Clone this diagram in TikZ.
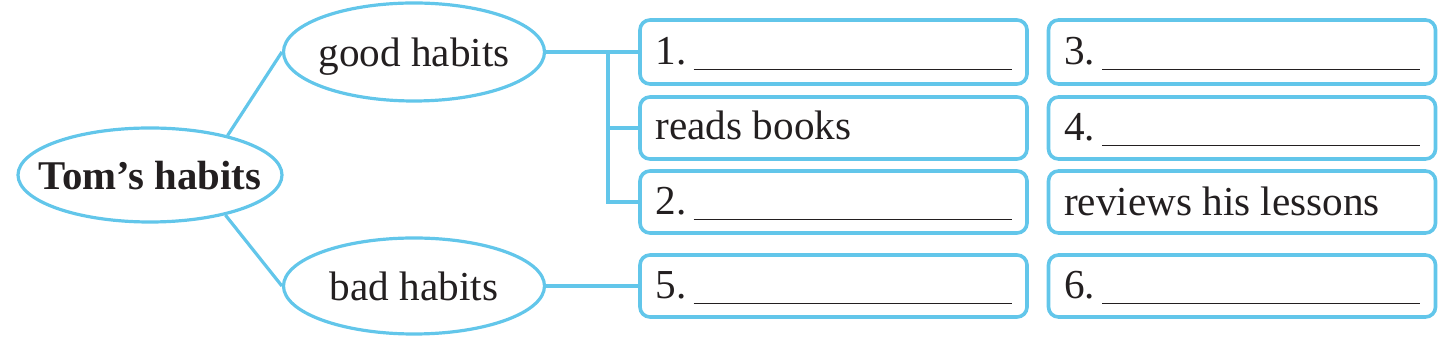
\documentclass[tikz,border=0pt]{standalone}
\usepackage{fontspec}
\setmainfont{Liberation Serif}
\usetikzlibrary{shapes.geometric}
\definecolor{cyanb}{RGB}{98,198,234}
\definecolor{ink}{RGB}{35,31,32}
\begin{document}
\begin{tikzpicture}[x=0.5pt,y=-0.5pt,
  hab/.style={draw=cyanb, line width=1.6pt, ellipse, inner sep=0pt, text=ink, text depth=0pt},
  slot/.style={draw=cyanb, line width=1.8pt, rounded corners=5pt, minimum width=193.5pt, minimum height=31pt, inner sep=0pt},
  lbl/.style={anchor=base west, inner sep=0pt, text=ink, font=\fontsize{20.6}{24}\selectfont},
  link/.style={draw=cyanb, line width=1.6pt}]
\useasboundingbox (0,0) rectangle (1449,340);
% ellipses
\node[hab, minimum width=132pt, minimum height=47pt, font=\fontsize{20.4}{24}\selectfont\bfseries] (tom) at (150,175) {\makebox[0pt]{Tom’s habits}};
\node[hab, minimum width=130.5pt, minimum height=49pt, font=\fontsize{20.6}{24}\selectfont] (good) at (414,52) {\makebox[0pt]{good habits}};
\node[hab, minimum width=130.5pt, minimum height=48pt, font=\fontsize{20.6}{24}\selectfont] (bad) at (414,286) {\makebox[0pt]{bad habits}};
% boxes
\node[slot, minimum height=32pt] (a1) at (833.5,52) {};
\node[slot] (a2) at (833.5,128) {};
\node[slot] (a3) at (833.5,202) {};
\node[slot] (a4) at (833.5,286) {};
\node[slot, minimum height=32pt] (c1) at (1242,52) {};
\node[slot] (c2) at (1242,128) {};
\node[slot] (c3) at (1242,202) {};
\node[slot] (c4) at (1242,286) {};
% labels
\newcommand{\blank}{\hspace{3.5pt}\rule[-2.6pt]{159pt}{0.8pt}}
\node[lbl] (t1) at ([xshift=8.5pt,yshift=-6.5pt]a1.west) {1.\blank};
\node[lbl] (t2) at ([xshift=8.5pt,yshift=-6pt]a2.west) {reads books};
\node[lbl] (t3) at ([xshift=8.5pt,yshift=-6.5pt]a3.west) {2.\blank};
\node[lbl] (t4) at ([xshift=8.5pt,yshift=-6.5pt]a4.west) {5.\blank};
\node[lbl] (t5) at ([xshift=8.5pt,yshift=-6.5pt]c1.west) {3.\blank};
\node[lbl] (t6) at ([xshift=8.5pt,yshift=-6.5pt]c2.west) {4.\blank};
\node[lbl] (t7) at ([xshift=8.5pt,yshift=-7pt]c3.west) {reviews his lessons};
\node[lbl] (t8) at ([xshift=8.5pt,yshift=-6.5pt]c4.west) {6.\blank};
% connectors
\coordinate (bus) at (608,52);
\draw[link] (tom.27) -- (good.west);
\draw[link] (tom.-28) -- (bad.west);
\draw[link] (good.east) -- (a1.west);
\draw[link] (bus) |- (a3.west);
\draw[link] (bus |- a2.west) -- (a2.west);
\draw[link] (bad.east) -- (a4.west);
\end{tikzpicture}
\end{document}
